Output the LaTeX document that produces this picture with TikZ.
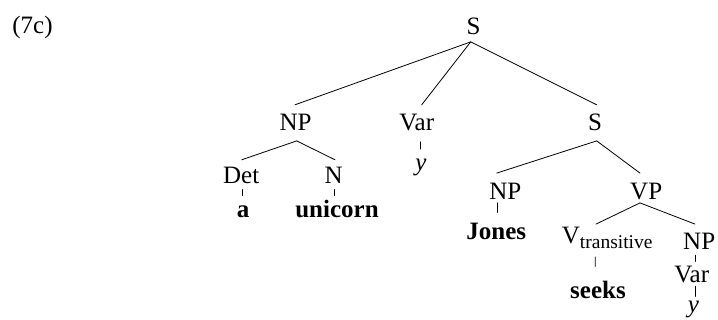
\documentclass[tikz,border=0pt]{standalone}
\usepackage{fontspec}
\setmainfont{Liberation Serif}
\tikzset{
  lbl/.style={inner sep=0pt, anchor=base, font=\fontsize{25}{30}\selectfont},
  hd/.style 2 args={text height=#1pt, text depth=#2pt},
  edge/.style={line width=0.8pt, line cap=round},
}
\newcommand\subtxt[1]{\raisebox{-4.3pt}{\fontsize{19.5}{22}\selectfont #1}}

\begin{document}
\begin{tikzpicture}[x=1pt,y=1pt]
\useasboundingbox (0,0) rectangle (718,-320);

% example number
\node[lbl] (ex) at (32.5,-33.5) {(7c)};

% tree labels
\node[lbl, hd={17}{7.4}]    (s1)    at (473.5,-34.3) {S};
\node[lbl, hd={25.7}{10}]   (np1)   at (295.5,-130.7) {NP};
\node[lbl, hd={25.7}{11}]   (var1)  at (416.7,-130.7) {Var};
\node[lbl, hd={25.7}{10}]   (s2)    at (595,-130.7) {S};
\node[lbl, hd={23.3}{6}]    (det)   at (241.2,-183.3) {Det};
\node[lbl, hd={23.3}{6}]    (nn)    at (333.7,-183.3) {N};
\node[lbl, hd={21.7}{5}]    (y1)    at (421,-171) {\textit{y}};
\node[lbl, hd={21.6}{1}]    (a)     at (243,-217.3) {\textbf{a}};
\node[lbl, hd={21.6}{1}]    (uni)   at (337,-217.3) {\textbf{unicorn}};
\node[lbl, hd={26}{3.4}]    (np3)   at (505.3,-199.3) {NP};
\node[lbl, hd={26}{3.4}]    (vp)    at (646.2,-199.3) {VP};
\node[lbl, hd={27.3}{1}]    (jones) at (496.3,-240) {\textbf{Jones}};
\node[lbl, hd={19.7}{12.7}] (vt)    at (607.2,-244) {V\subtxt{transitive}};
\node[lbl, hd={25}{5.7}]    (np4)   at (699.2,-249.3) {NP};
\node[lbl, hd={31.6}{1}]    (seeks) at (598,-298.3) {\textbf{seeks}};
\node[lbl, hd={21}{3.3}]    (var2)  at (691.7,-282.7) {Var};
\node[lbl, hd={16.3}{5}]    (y2)    at (693.3,-313) {\textit{y}};

% branches
\draw[edge] ([xshift=-2.8pt]s1.south) -- ([xshift=-0.5pt]np1.north);
\draw[edge] ([xshift=-2.8pt]s1.south) -- ([xshift=5pt]var1.north);
\draw[edge] ([xshift=-2.8pt]s1.south) -- ([xshift=1.7pt]s2.north);
\draw[edge] ([xshift=1.2pt]np1.south) -- ([xshift=0.5pt]det.north);
\draw[edge] ([xshift=1.2pt]np1.south) -- ([xshift=1.3pt]nn.north);
\draw[edge] ([xshift=4pt]var1.south) -- ([xshift=-0.3pt]y1.north);
\draw[edge] ([xshift=1.7pt]s2.south) -- ([xshift=-8.6pt]np3.north);
\draw[edge] ([xshift=1.7pt]s2.south) -- ([xshift=-6.2pt]vp.north);
\draw[edge] ([xshift=1.5pt]det.south) -- ([xshift=-0.3pt]a.north);
\draw[edge] ([xshift=0.6pt]nn.south) -- ([xshift=-2.7pt]uni.north);
\draw[edge] ([xshift=-8pt]np3.south) -- ([xshift=1pt]jones.north);
\draw[edge] ([xshift=-6.2pt]vp.south) -- ([xshift=-11.2pt]vt.north);
\draw[edge] ([xshift=-6.2pt]vp.south) -- ([xshift=-4.2pt]np4.north);
\draw[edge] ([xshift=-12pt]vt.south) -- ([xshift=-2.7pt]seeks.north);
\draw[edge] ([xshift=-4.2pt]np4.south) -- ([xshift=3.3pt]var2.north);
\draw[edge] ([xshift=3.3pt]var2.south) -- ([xshift=1.7pt]y2.north);
\end{tikzpicture}
\end{document}
